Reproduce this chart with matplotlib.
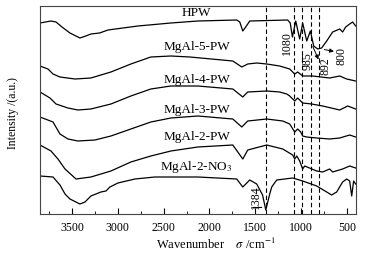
import matplotlib
matplotlib.use("Agg")
import matplotlib.pyplot as plt
from matplotlib.ticker import MultipleLocator

plt.rcParams['font.family'] = ['Liberation Serif', 'DejaVu Serif']
plt.rcParams['mathtext.fontset'] = 'stix'

# ---- data (wavenumber, cm^-1 ; intensity, a.u. with vertical offsets) ----
hpw_wn = [3850, 3730, 3675, 3610, 3523, 3414, 3350, 3294, 3200, 3108, 2781, 2421, 2127,
          1702, 1669, 1636, 1604, 1560, 1146, 1118, 1094, 1058, 1015, 982, 938, 898, 862,
          818, 775, 720, 655, 578, 546, 513, 469, 437, 404]
hpw_int = [196, 198, 197, 192, 186, 181, 183, 185, 186, 189, 193, 196, 198,
           199, 197, 188, 192, 198, 199, 196, 182, 198, 180, 196, 178, 188, 173,
           170, 171, 178, 187, 190, 187, 192, 195, 197, 193]

mg5_wn = [3850, 3763, 3708, 3632, 3468, 3294, 3076, 2858, 2640, 2421, 2214, 1745, 1647,
          1582, 1484, 1375, 1233, 1124, 1069, 1037, 982, 873, 688, 578, 502, 404]
mg5_int = [153, 150, 145, 142, 140, 141, 147, 155, 162, 163, 162, 158, 152,
           155, 156, 155, 153, 150, 145, 147, 143, 143, 141, 143, 140, 138]

mg4_wn = [3850, 3741, 3675, 3545, 3436, 3294, 3076, 2858, 2640, 2421, 2127, 1745, 1636,
          1582, 1375, 1233, 1156, 1124, 1069, 1037, 982, 884, 764, 578, 491, 404]
mg4_int = [127, 121, 115, 111, 109, 110, 115, 123, 130, 133, 133, 130, 122,
           127, 128, 127, 125, 123, 118, 121, 116, 115, 113, 109, 113, 110]

mg3_wn = [3850, 3708, 3632, 3545, 3436, 3250, 3076, 2858, 2640, 2421, 2127, 1745, 1647,
          1582, 1375, 1200, 1124, 1069, 1037, 1004, 982, 938, 829, 688, 578, 469, 404]
mg3_int = [102, 97, 85, 80, 78, 79, 83, 90, 97, 101, 103, 100, 92,
           98, 100, 98, 95, 87, 90, 87, 83, 82, 81, 80, 81, 84, 82]

mg2_wn = [3850, 3730, 3654, 3577, 3457, 3294, 3076, 2858, 2640, 2421, 2127, 1745, 1636,
          1582, 1375, 1200, 1091, 1069, 1047, 1015, 982, 960, 829, 764, 688, 655, 546,
          469, 404]
mg2_int = [74, 68, 60, 50, 40, 42, 48, 57, 63, 68, 72, 74, 60,
           69, 74, 70, 64, 60, 63, 58, 50, 53, 48, 47, 50, 47, 50,
           53, 51]

no3_wn = [3850, 3708, 3632, 3577, 3523, 3436, 3414, 3359, 3294, 3185, 3130, 3087, 2999,
          2814, 2596, 2345, 2127, 1702, 1636, 1560, 1484, 1420, 1385, 1342, 1320, 1266,
          1091, 982, 829, 720, 666, 611, 546, 502, 469, 447, 426, 404]
no3_int = [43, 42, 34, 25, 20, 16, 15, 17, 23, 27, 28, 32, 36,
           40, 42, 42, 42, 40, 32, 39, 35, 24, 9, 25, 32, 39,
           41, 38, 33, 27, 24, 27, 37, 40, 38, 23, 38, 35]

series = [(hpw_wn, hpw_int), (mg5_wn, mg5_int), (mg4_wn, mg4_int),
          (mg3_wn, mg3_int), (mg2_wn, mg2_int), (no3_wn, no3_int)]
labels = ["HPW", "MgAl-5-PW", "MgAl-4-PW", "MgAl-3-PW", "MgAl-2-PW", "MgAl-2-NO$_3$"]
label_y = [207, 173, 140, 110, 83, 53]
label_x = 2140

dash_wn = [1384, 1080, 985, 892, 800]
peak_text = ["1080", "985", "892", "800"]
peak_text_wn = [1151, 927, 731, 557]
peak_text_y = [177, 159, 154, 164]

xticks = [3500, 3000, 2500, 2000, 1500, 1000, 500]

# ---- figure ----
fig = plt.figure(figsize=(3.81, 2.55), dpi=100)
ax = fig.add_axes([40/381, 40/255, 316/381, 208/255])

for wn, it in series:
    ax.plot(wn, it, color='black', lw=0.9)

for w in dash_wn:
    ax.axvline(w, color='black', lw=0.8, ls=(0, (4, 2.5)))

for lab, ly in zip(labels, label_y):
    ax.text(label_x, ly, lab, ha='center', va='center', fontsize=9.5)

for t, tx, ty in zip(peak_text, peak_text_wn, peak_text_y):
    ax.text(tx, ty, t, rotation=90, ha='center', va='center', fontsize=8.5)

ax.text(1489, 23, "1384", rotation=90, ha='center', va='center', fontsize=8.5)
ax.plot([1520, 1440], [12, 12], color='black', lw=0.8)

ax.annotate("", xy=(797, 157), xytext=(884, 175),
            arrowprops=dict(arrowstyle='-|>', color='black', lw=0.7, mutation_scale=6))
ax.annotate("", xy=(611, 167), xytext=(775, 170),
            arrowprops=dict(arrowstyle='-|>', color='black', lw=0.7, mutation_scale=6))

ax.set_xlim(3850, 400)
ax.set_ylim(5, 213)
ax.set_xticks(xticks)
ax.xaxis.set_minor_locator(MultipleLocator(250))
ax.tick_params(axis='x', which='both', direction='in', top=False, labelsize=8.5, pad=5)
ax.tick_params(axis='x', which='major', length=4)
ax.tick_params(axis='x', which='minor', length=2)
ax.set_yticks([])
for s in ax.spines.values():
    s.set_linewidth(0.8)
    s.set_color('#444444')

fig.text(216/381, 1 - 244/255, "Wavenumber    $\\sigma$ /cm$^{-1}$", ha='center', va='center', fontsize=9)
fig.text(13/381, 1 - 113/255, "Intensity /(a.u.)", rotation=90, ha='center', va='center', fontsize=8.5)

fig.savefig("out.png", dpi=100)
